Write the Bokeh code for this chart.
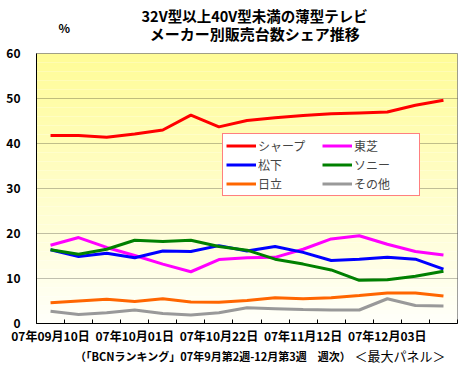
import numpy as np
from bokeh.plotting import figure
from bokeh.layouts import column
from bokeh.models import Range1d, FixedTicker, Legend, LegendItem
from bokeh.core.properties import value
from bokeh.embed import file_html
from bokeh.resources import INLINE

weeks = ["07年09月10日", "07年09月17日", "07年09月24日", "07年10月01日", "07年10月08日",
         "07年10月15日", "07年10月22日", "07年10月29日", "07年11月05日", "07年11月12日",
         "07年11月19日", "07年11月26日", "07年12月03日", "07年12月10日", "07年12月17日"]
sharp = [41.8, 41.8, 41.4, 42.1, 43.0, 46.3, 43.7, 45.1, 45.7, 46.2, 46.6, 46.8, 47.0, 48.5, 49.6]
toshiba = [17.4, 19.1, 16.9, 15.1, 13.2, 11.5, 14.2, 14.6, 14.7, 16.5, 18.8, 19.5, 17.6, 16.0, 15.2]
matsushita = [16.4, 14.9, 15.6, 14.6, 16.1, 16.0, 17.3, 16.1, 17.1, 15.8, 14.0, 14.3, 14.7, 14.3, 12.1]
sony = [16.4, 15.4, 16.5, 18.5, 18.2, 18.5, 17.1, 16.3, 14.3, 13.2, 11.9, 9.6, 9.7, 10.5, 11.6]
hitachi = [4.6, 5.0, 5.4, 4.9, 5.5, 4.8, 4.7, 5.1, 5.7, 5.5, 5.7, 6.2, 6.8, 6.8, 6.1]
other = [2.7, 2.0, 2.4, 3.0, 2.2, 1.9, 2.4, 3.5, 3.3, 3.1, 3.0, 3.0, 5.5, 4.0, 3.9]
y_ticks = [0, 10, 20, 30, 40, 50, 60]
label_every = [0, 3, 6, 9, 12]

title1 = "32V型以上40V型未満の薄型テレビ"
title2 = "メーカー別販売台数シェア推移"
unit = "%"
note_main = "（「BCNランキング」07年9月第2週-12月第3週　週次）"
note_tail = "＜最大パネル＞"

FONT = "Noto Sans CJK JP"
W = 469


def blank(h):
    f = figure(width=W, height=h, x_range=Range1d(0, W), y_range=Range1d(h, 0),
               x_axis_type=None, y_axis_type=None, output_backend="svg",
               toolbar_location=None, min_border=0)
    f.xgrid.visible = False
    f.ygrid.visible = False
    f.outline_line_color = None
    f.background_fill_color = "white"
    f.border_fill_color = "white"
    return f


def txt(f, s, xx, yy, size, bold=True, align="center"):
    f.text(x=[xx], y=[yy], text=[s], text_align=align, text_baseline="middle",
           text_font=value(FONT), text_font_size=size,
           text_font_style="bold" if bold else "normal", text_color="black")


# header
head = blank(45)
txt(head, title1, 243, 15, "14.5px")
txt(head, title2, 243, 33, "15px")
txt(head, unit, 31, 27, "12px")

# main chart
x = list(range(len(weeks)))
p = figure(width=W, height=301, x_range=Range1d(-0.5, len(weeks) - 0.5),
           y_range=Range1d(0, 60), output_backend="svg", toolbar_location=None,
           min_border_left=36, min_border_right=12, min_border_top=8, min_border_bottom=21)
p.background_fill_color = "white"
p.border_fill_color = "white"
p.outline_line_color = "#808080"

n = 60
edges = np.linspace(0, 60, n + 1)
cols = []
for i in range(n):
    t = (edges[i] + edges[i + 1]) / 2 / 60
    b = int(round(250 - (250 - 150) * t))
    g = int(round(255 - 3 * t))
    cols.append("#%02x%02x%02x" % (255, g, b))
p.quad(left=-0.5, right=len(weeks) - 0.5, bottom=edges[:-1], top=edges[1:],
       fill_color=cols, line_color=None)

p.xgrid.visible = False
p.ygrid.ticker = FixedTicker(ticks=y_ticks[1:-1])
p.ygrid.grid_line_color = "black"
p.ygrid.grid_line_width = 1

xa = p.xaxis[0]
xa.ticker = FixedTicker(ticks=label_every, minor_ticks=[i - 0.5 for i in range(len(weeks) + 1)])
xa.major_label_overrides = {i: weeks[i] for i in label_every}
xa.major_tick_in = 0
xa.major_tick_out = 0
xa.minor_tick_in = 4
xa.minor_tick_out = 0
xa.minor_tick_line_color = "black"
xa.axis_line_color = "black"
xa.major_label_text_font = FONT
xa.major_label_text_font_style = "bold"
xa.major_label_text_font_size = "12px"
xa.major_label_text_color = "black"
xa.major_label_standoff = 3

ya = p.yaxis[0]
ya.ticker = FixedTicker(ticks=y_ticks)
ya.major_tick_in = 0
ya.major_tick_out = 0
ya.minor_tick_in = 0
ya.minor_tick_out = 0
ya.axis_line_color = "black"
ya.major_label_text_font = FONT
ya.major_label_text_font_style = "bold"
ya.major_label_text_font_size = "12px"
ya.major_label_text_color = "black"
ya.major_label_standoff = 16

series = [("シャープ", sharp, "#ff0000"), ("東芝", toshiba, "#ff00ff"),
          ("松下", matsushita, "#0000ff"), ("ソニー", sony, "#008000"),
          ("日立", hitachi, "#ff6600"), ("その他", other, "#999999")]
rs = {}
for name, vals, c in series:
    rs[name] = p.line(x, vals, line_color=c, line_width=3)

order = ["シャープ", "松下", "日立", "東芝", "ソニー", "その他"]
legend = Legend(items=[LegendItem(label=nm, renderers=[rs[nm]]) for nm in order],
                location=(186, 127), ncols=2)
legend.border_line_color = "red"
legend.border_line_width = 1
legend.background_fill_color = "white"
legend.background_fill_alpha = 1
legend.label_text_font = FONT
legend.label_text_font_size = "12px"
legend.glyph_width = 30
legend.glyph_height = 15
legend.label_height = 15
legend.label_width = 62
legend.label_standoff = 2
legend.spacing = 2
legend.padding = 3
legend.margin = 0
p.add_layout(legend)

# footer
foot = blank(31)
txt(foot, note_main, 43, 9, "11px", bold=True, align="left")
txt(foot, note_tail, 405, 9, "13px", bold=False, align="center")

page = column(head, p, foot, spacing=0)
open("out.html", "w").write(file_html(page, INLINE))
